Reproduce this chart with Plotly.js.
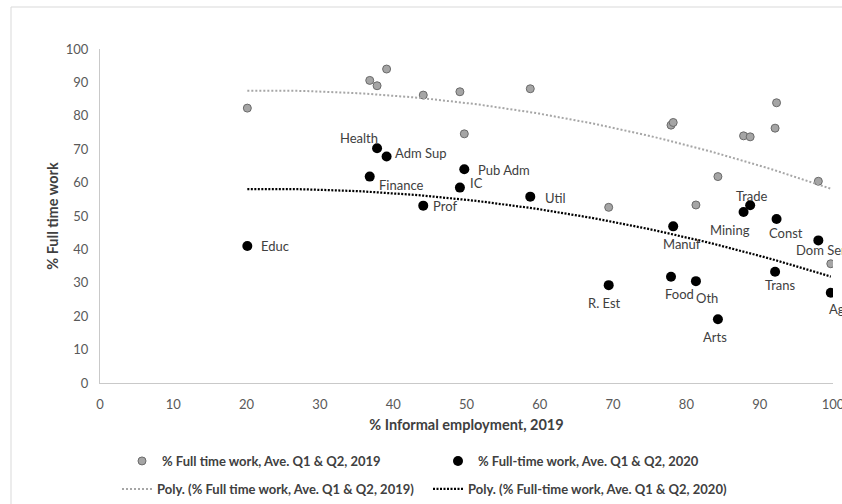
<!DOCTYPE html>
<html>
<head>
<meta charset="utf-8">
<script src="https://cdn.plot.ly/plotly-3.0.1.min.js"></script>
<style>html,body{margin:0;padding:0;background:#fff;}#chart{width:842px;height:504px;}</style>
</head>
<body>
<div id="chart"></div>
<script>
// ---- data ----
const sectors = ['Educ','Finance','Health','Adm Sup','Prof','IC','Pub Adm','Util','R. Est','Food','Manuf','Oth','Arts','Mining','Trade','Trans','Const','Dom Ser','Ag'];
const informal2019 = [20.1,36.8,37.8,39.1,44.1,49.1,49.7,58.7,69.4,77.9,78.2,81.3,84.3,87.8,88.7,92.1,92.3,98.0,99.7];
const fullTime2019 = [82.3,90.6,89.0,94.0,86.2,87.2,74.6,88.1,52.6,77.2,78.0,53.3,61.8,74.0,73.7,76.3,83.9,60.4,35.7];
const fullTime2020 = [41.0,61.8,70.3,67.8,53.1,58.5,64.0,55.8,29.3,31.8,46.9,30.5,19.1,51.2,53.2,33.3,49.1,42.7,27.0];
const xTicks = [0,10,20,30,40,50,60,70,80,90,100];
const yTicks = [0,10,20,30,40,50,60,70,80,90,100];
const name2019 = '% Full time work, Ave. Q1 & Q2, 2019';
const name2020 = '% Full-time work, Ave. Q1 & Q2, 2020';
const namePoly2019 = 'Poly. (% Full time work, Ave. Q1 & Q2, 2019)';
const namePoly2020 = 'Poly. (% Full-time work, Ave. Q1 & Q2, 2020)';

// label placement (pixel offsets from each point: dx right, dy down)
const labelOffsets = {
  'Educ':[28,0,'center'], 'Finance':[32,8,'center'], 'Health':[-18,-10,'center'], 'Adm Sup':[34,-4,'center'],
  'Prof':[22,0,'center'], 'IC':[17,-5,'center'], 'Pub Adm':[40,1,'center'], 'Util':[25,1,'center'],
  'R. Est':[-4,18,'center'], 'Food':[8,17,'center'], 'Manuf':[9,18,'center'], 'Oth':[11,17,'center'],
  'Arts':[-3,18,'center'], 'Mining':[-14,18,'center'], 'Trade':[2,-9,'center'], 'Trans':[5,13,'center'],
  'Const':[9,14,'center'], 'Dom Ser':[-24,10,'left'], 'Ag':[-4,16,'left']
};

// ---- 2nd order polynomial least-squares trendline (as Excel "Poly.") ----
function polyFit2(xs, ys) {
  let S = [0,0,0,0,0], T = [0,0,0];
  for (let i = 0; i < xs.length; i++) {
    const x = xs[i], y = ys[i];
    let p = 1;
    for (let k = 0; k < 5; k++) { S[k] += p; if (k < 3) T[k] += p * y; p *= x; }
  }
  const A = [[S[0],S[1],S[2],T[0]],[S[1],S[2],S[3],T[1]],[S[2],S[3],S[4],T[2]]];
  for (let c = 0; c < 3; c++) {
    for (let r = c + 1; r < 3; r++) {
      const f = A[r][c] / A[c][c];
      for (let k = c; k < 4; k++) A[r][k] -= f * A[c][k];
    }
  }
  const b = [0,0,0];
  for (let r = 2; r >= 0; r--) {
    let s = A[r][3];
    for (let k = r + 1; k < 3; k++) s -= A[r][k] * b[k];
    b[r] = s / A[r][r];
  }
  return b;
}
function trend(xs, ys) {
  const b = polyFit2(xs, ys);
  const lo = Math.min.apply(null, xs), hi = Math.max.apply(null, xs);
  const tx = [], ty = [];
  for (let i = 0; i <= 80; i++) { const x = lo + (hi - lo) * i / 80; tx.push(x); ty.push(b[0] + b[1]*x + b[2]*x*x); }
  return {x: tx, y: ty};
}
const t19 = trend(informal2019, fullTime2019);
const t20 = trend(informal2019, fullTime2020);

const FONT = 'Lato, "Open Sans", sans-serif';

const traces = [
  {type:'scatter', mode:'lines', x:t19.x, y:t19.y, name:namePoly2019, legend:'legend2',
   line:{color:'#A6A6A6', width:2, dash:'2px,2px'}, hoverinfo:'skip'},
  {type:'scatter', mode:'lines', x:t20.x, y:t20.y, name:namePoly2020, legend:'legend2',
   line:{color:'#000000', width:2.25, dash:'2px,1.5px'}, hoverinfo:'skip'},
  {type:'scatter', mode:'markers', x:informal2019, y:fullTime2019, name:name2019, text:sectors,
   marker:{color:'#A5A5A5', size:8, line:{color:'#6A6A6A', width:1}}},
  {type:'scatter', mode:'markers', x:informal2019, y:fullTime2020, name:name2020, text:sectors,
   marker:{color:'#000000', size:10}}
];
// put marker traces first in legend order
const ordered = [traces[2], traces[3], traces[0], traces[1]];

const annotations = sectors.map(function(s, i) {
  const o = labelOffsets[s];
  return {x: informal2019[i], y: fullTime2020[i], text: s, showarrow: false,
    xshift: o[0], yshift: -o[1], xanchor: o[2], yanchor: 'middle',
    font: {family: FONT, size: 13, color: '#404040'}};
});

const layout = {
  width: 842, height: 504,
  margin: {l: 100, r: 9, t: 49, b: 121},
  paper_bgcolor: '#ffffff', plot_bgcolor: '#ffffff',
  font: {family: FONT, color: '#595959'},
  showlegend: true,
  xaxis: {range: [0, 100], tickvals: xTicks, ticktext: xTicks.map(String), showgrid: false, zeroline: false,
    showline: true, linecolor: '#C9C9C9', linewidth: 1, ticks: '', ticklabelstandoff: 9, ticklabeloverflow: 'allow',
    tickfont: {family: FONT, size: 13, color: '#595959'},
    title: {text: '% Informal employment, 2019', standoff: 9, font: {family: FONT, size: 14.5, color: '#404040', weight: 'bold'}}},
  yaxis: {range: [0, 100], tickvals: yTicks, ticktext: yTicks.map(String), showgrid: false, zeroline: false,
    showline: true, linecolor: '#C9C9C9', linewidth: 1, ticks: '', ticklabelstandoff: 8, ticklabeloverflow: 'allow',
    tickfont: {family: FONT, size: 13, color: '#595959'},
    title: {text: '% Full time work', standoff: 3, font: {family: FONT, size: 14.5, color: '#404040', weight: 'bold'}}},
  legend: {orientation: 'h', xref: 'container', yref: 'container', x: 122/842, y: 1 - 461/504,
    xanchor: 'left', yanchor: 'middle', entrywidth: 271, entrywidthmode: 'pixels',
    bgcolor: 'rgba(0,0,0,0)', font: {family: FONT, size: 13, color: '#404040', weight: 'bold'}},
  legend2: {orientation: 'h', xref: 'container', yref: 'container', x: 117/842, y: 1 - 489/504,
    xanchor: 'left', yanchor: 'middle', entrywidth: 266, entrywidthmode: 'pixels',
    bgcolor: 'rgba(0,0,0,0)', font: {family: FONT, size: 13, color: '#404040', weight: 'bold'}},
  annotations: annotations,
  shapes: [
    {type: 'rect', xref: 'paper', yref: 'paper', x0: (11 - 100) / 733, x1: (860 - 100) / 733,
     y0: (383 - 520) / 334, y1: (383 - 7) / 334, line: {color: '#D9D9D9', width: 1}, fillcolor: 'rgba(0,0,0,0)', layer: 'below'}
  ]
};

Plotly.newPlot('chart', ordered, layout, {displayModeBar: false, staticPlot: true});
</script>
</body>
</html>
